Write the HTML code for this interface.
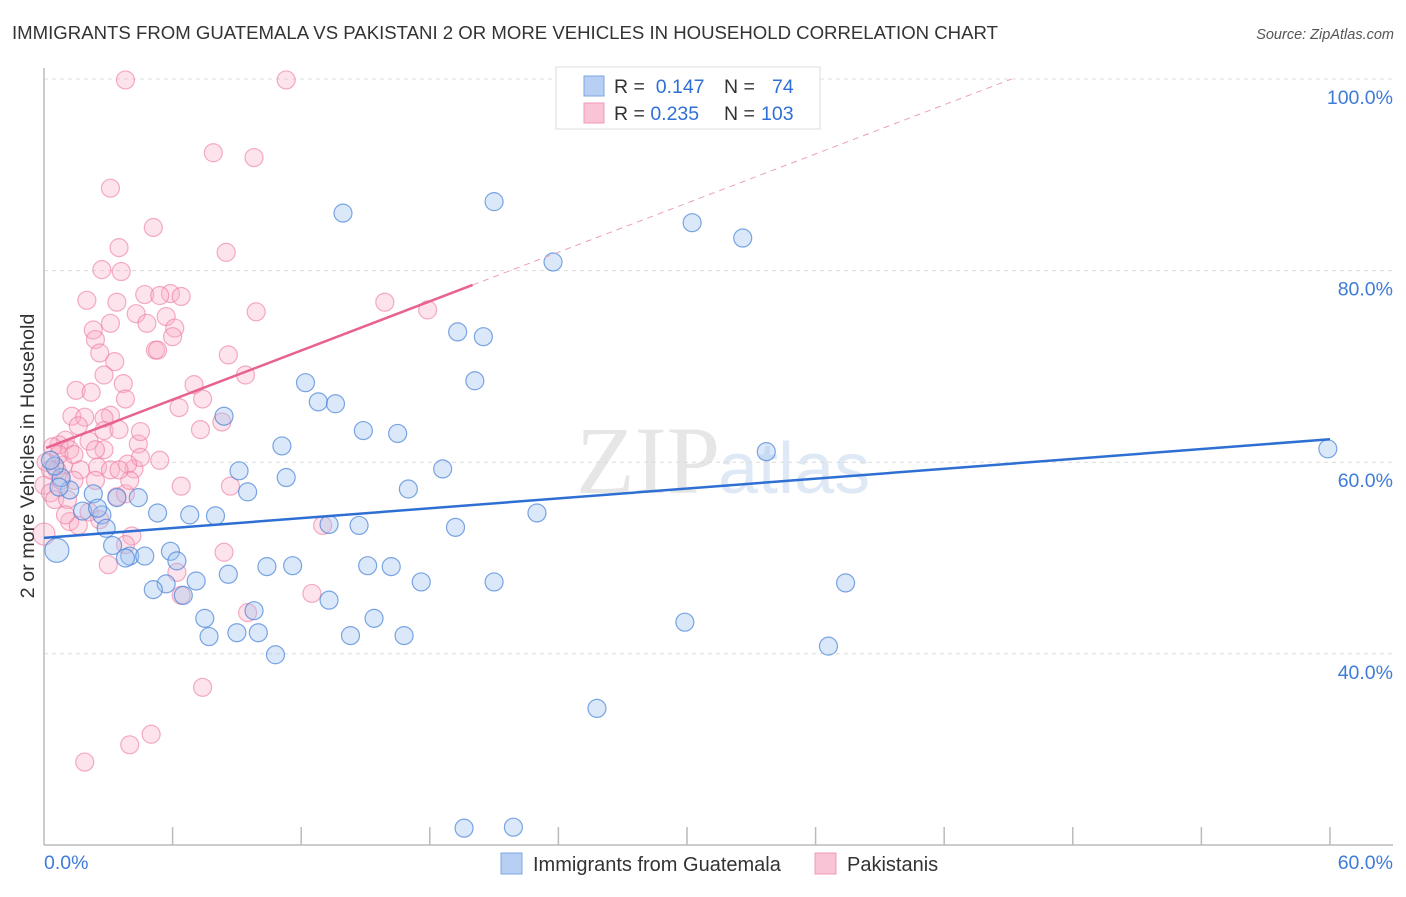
<!DOCTYPE html>
<html><head><meta charset="utf-8"><style>
body{margin:0;background:#fff;font-family:"Liberation Sans",sans-serif;}
</style></head><body>
<svg width="1406" height="892" xmlns="http://www.w3.org/2000/svg" id="chart" font-family="Liberation Sans, sans-serif">
<text x="12" y="39" font-size="18.6" fill="#333">IMMIGRANTS FROM GUATEMALA VS PAKISTANI 2 OR MORE VEHICLES IN HOUSEHOLD CORRELATION CHART</text>
<text x="1394" y="39" font-size="14.5" fill="#555" font-style="italic" text-anchor="end">Source: ZipAtlas.com</text>
<text x="720" y="493" font-size="96" fill="#e6e6e6" text-anchor="end" font-family="Liberation Serif, serif">ZIP</text>
<text x="718" y="493" font-size="72" fill="#dfe8f5">atlas</text>
<g id="grid"></g><g id="axes"></g><g id="marks"></g><g id="trends"></g>
<g>
<rect x="556" y="67" width="264" height="62" fill="#fff" stroke="#ddd"/>
<rect x="584" y="76" width="20" height="20" fill="#b7cff3" stroke="#7ea6e3"/>
<rect x="584" y="103" width="20" height="20" fill="#f9c4d5" stroke="#ef99b8"/>
<text x="614" y="93" font-size="19.5" fill="#333">R = <tspan fill="#2f6fd6">&#160;0.147</tspan><tspan x="724">N = </tspan><tspan x="772" fill="#2f6fd6">74</tspan></text>
<text x="614" y="120" font-size="19.5" fill="#333">R = <tspan fill="#2f6fd6">0.235</tspan><tspan x="724">N = </tspan><tspan x="761" fill="#2f6fd6">103</tspan></text>
</g>
<g>
<rect x="501" y="853" width="21" height="21" fill="#b7cff3" stroke="#7ea6e3"/>
<text x="533" y="871" font-size="20" fill="#333">Immigrants from Guatemala</text>
<rect x="815" y="853" width="21" height="21" fill="#f9c4d5" stroke="#ef99b8"/>
<text x="847" y="871" font-size="20" fill="#333">Pakistanis</text>
</g>
<text transform="translate(34,456) rotate(-90)" font-size="19.8" fill="#333" text-anchor="middle">2 or more Vehicles in Household</text>
</svg>
<script>
const guatX=[13.95,21.0,30.24,32.6,23.75,19.3,20.5,20.1,12.2,12.8,13.6,14.9,16.5,8.4,11.1,33.7,59.9,18.6,9.1,11.3,17.0,1.2,2.3,9.5,4.4,3.4,5.3,6.8,8.0,23.0,2.7,1.8,2.5,13.3,14.7,19.2,2.9,0.6,3.2,4.0,4.7,3.8,5.9,6.2,15.1,16.2,10.4,11.6,8.6,7.1,5.7,17.6,21.0,37.4,5.1,6.5,13.3,9.8,7.5,15.4,9.0,10.0,14.3,16.8,7.7,29.9,36.6,10.8,25.8,19.6,21.9,0.8,0.5,0.7,0.3];
const guatY=[86.0,87.2,85.0,83.4,80.9,73.6,73.1,68.5,68.3,66.3,66.1,63.3,63.0,64.8,61.7,61.1,61.4,59.3,59.1,58.4,57.2,57.1,56.7,56.9,56.3,56.3,54.7,54.5,54.4,54.7,54.5,54.9,55.2,53.5,53.4,53.2,53.1,50.8,51.3,50.2,50.2,50.0,50.7,49.7,49.2,49.1,49.1,49.2,48.3,47.6,47.3,47.5,47.5,47.4,46.7,46.1,45.6,44.5,43.7,43.7,42.2,42.2,41.9,41.9,41.8,43.3,40.8,39.9,34.3,21.8,21.9,58.4,59.6,57.4,60.2];
const pakX=[3.8,11.3,7.9,9.8,3.1,5.1,3.5,8.5,2.7,3.6,2.0,4.7,5.9,6.4,5.4,3.4,9.9,15.9,17.9,4.3,3.1,5.7,4.8,6.1,2.3,2.4,6.0,5.2,5.3,2.6,8.6,3.3,9.4,2.8,3.7,7.0,1.5,2.2,3.8,7.4,6.3,1.3,8.3,1.9,3.1,2.8,2.8,1.6,2.1,1.0,0.7,1.2,2.8,0.4,4.4,0.1,2.5,4.2,4.5,3.9,0.9,0.6,2.4,6.4,8.7,0.0,0.3,3.4,3.8,2.1,2.6,1.2,1.6,13.0,4.1,0.0,3.8,3.0,8.4,6.2,12.5,6.4,9.5,7.4,5.0,4.0,1.9,0.7,0.5,1.4,1.7,0.8,0.3,1.1,4.0,5.4,7.3,2.4,3.1,1.4,1.0,3.5,4.5,3.5];
const pakY=[99.9,99.9,92.3,91.8,88.6,84.5,82.4,81.9,80.1,79.9,76.9,77.5,77.6,77.3,77.4,76.7,75.7,76.7,75.9,75.5,74.5,75.2,74.5,74.0,73.8,72.8,73.1,71.7,71.7,71.4,71.2,70.5,69.1,69.1,68.2,68.1,67.5,67.3,66.6,66.6,65.7,64.8,64.2,64.7,64.9,64.6,63.3,63.8,62.2,62.3,61.8,61.3,61.3,61.6,61.9,60.0,59.5,59.3,60.5,59.8,59.7,59.2,58.1,57.5,57.5,57.6,56.8,56.4,56.7,54.8,54.0,53.8,53.4,53.4,52.3,52.5,51.4,49.3,50.6,48.5,46.3,46.1,44.3,36.5,31.6,30.5,28.7,60.8,56.1,60.8,59.2,58.1,59.2,56.1,58.1,60.2,63.4,61.3,59.2,58.1,54.5,63.4,63.2,59.2];
const yTicks=[100,80,60,40];
const yTickLabels=["100.0%","80.0%","60.0%","40.0%"];
const guatTrend=[52.1,62.4];
const pakTrend=[61.4,0.855];
const NS="http://www.w3.org/2000/svg";
const sx=v=>44+v*21.433;
const sy=v=>79+(100-v)*9.58;
function mk(tag,attrs,parent){const e=document.createElementNS(NS,tag);for(const k in attrs)e.setAttribute(k,attrs[k]);document.getElementById(parent).appendChild(e);return e;}
yTicks.forEach((t,i)=>{
 const l=mk('line',{x1:44,x2:1393,y1:sy(t),y2:sy(t),stroke:'#dcdcdc','stroke-dasharray':'4,4'},'grid');
 
 
 const tx=mk('text',{x:1393,y:sy(t)+25,'font-size':19.5,fill:'#3f7bd8','text-anchor':'end'},'grid');
 tx.textContent=yTickLabels[i];
 
 
});
let ax=mk('line',{x1:44,x2:44,y1:68,y2:845,stroke:'#bbb','stroke-width':1.5},'axes');


ax=mk('line',{x1:44,x2:1393,y1:845,y2:845,stroke:'#bbb','stroke-width':1.5},'axes');


for(let i=1;i<=10;i++){const t=mk('line',{x1:sx(i*6),x2:sx(i*6),y1:827,y2:845,stroke:'#bbb','stroke-width':1.5},'axes');
 
 }
let xl=mk('text',{x:44,y:869,'font-size':19.5,fill:'#3f7bd8'},'axes');xl.textContent='0.0%';


xl=mk('text',{x:1393,y:869,'font-size':19.5,fill:'#3f7bd8','text-anchor':'end'},'axes');xl.textContent='60.0%';


pakX.forEach((x,i)=>{const c=mk('circle',{cx:sx(x),cy:sy(pakY[i]),r:(i==75?11:9),fill:'rgba(248,175,198,0.35)',stroke:'rgba(236,120,160,0.6)','stroke-width':1.2},'marks');
 
 });
guatX.forEach((x,i)=>{const c=mk('circle',{cx:sx(x),cy:sy(guatY[i]),r:(i==37?12:9),fill:'rgba(160,195,240,0.38)',stroke:'rgba(70,130,215,0.7)','stroke-width':1.2},'marks');
 
 });
let tl=mk('line',{x1:sx(0),y1:sy(guatTrend[0]),x2:sx(60),y2:sy(guatTrend[1]),stroke:'#2e6fd4','stroke-width':2.5},'trends');


const pf=v=>pakTrend[0]+pakTrend[1]*v;
tl=mk('line',{x1:sx(0.1),y1:sy(pf(0.1)),x2:sx(20),y2:sy(pf(20)),stroke:'#e8628f','stroke-width':2.5},'trends');


const xe=(100-pakTrend[0])/pakTrend[1];
tl=mk('line',{x1:sx(20),y1:sy(pf(20)),x2:sx(xe),y2:sy(100),stroke:'#eaa0b8','stroke-width':1,'stroke-dasharray':'6,5'},'trends');


</script>
</body></html>
